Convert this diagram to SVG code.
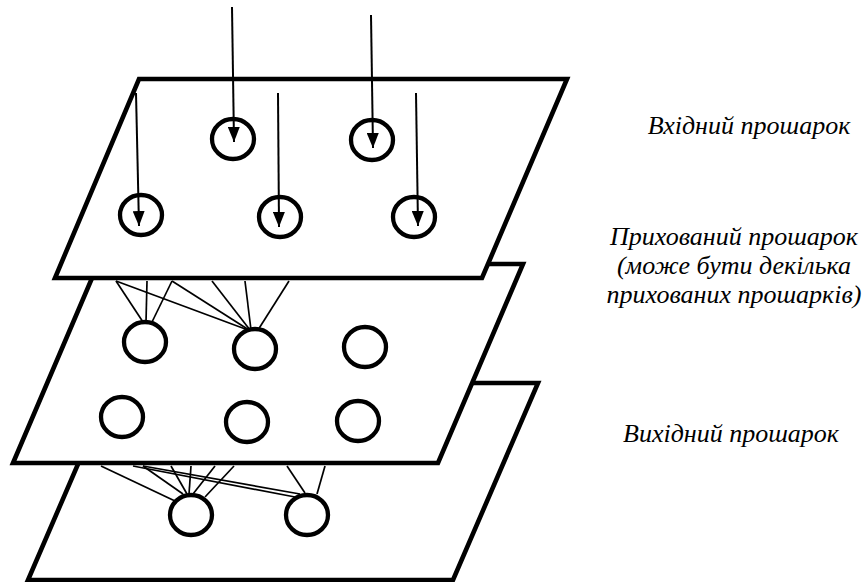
<svg xmlns="http://www.w3.org/2000/svg" width="866" height="582" viewBox="0 0 866 582">
<style>
.plane{fill:#fff;stroke:#000;stroke-width:4.6;stroke-linejoin:miter}
.node{fill:none;stroke:#000;stroke-width:4.3}
.link{stroke:#000;stroke-width:1.7;fill:none}
.arrow{stroke:#000;stroke-width:2;fill:none;marker-end:url(#ah)}
.lbl{font-family:"Liberation Serif","Times New Roman",serif;font-style:italic;font-size:26px;fill:#000;text-anchor:middle}
</style>
<defs>
<marker id="ah" markerUnits="userSpaceOnUse" viewBox="0 0 15 12" markerWidth="15" markerHeight="12" refX="15" refY="6" orient="auto">
<path d="M0,0 L15,6 L0,12 z" fill="#000"/>
</marker>
</defs>
<rect width="866" height="582" fill="#fff"/>
<g id="output-layer"><polygon class="plane" points="113,383 538,383 453,580 28,580"/></g>
<g id="hidden-layer"><polygon class="plane" points="98,264 523,264 438,463 13,463"/></g>
<g id="input-layer"><polygon class="plane" points="139,79 567,79 482,278 55,278"/></g>
<g id="in1"><ellipse class="node" cx="233" cy="139" rx="21" ry="20"/></g>
<g id="in2"><ellipse class="node" cx="372" cy="140" rx="21" ry="20"/></g>
<g id="in3"><ellipse class="node" cx="141" cy="215" rx="21" ry="20"/></g>
<g id="in4"><ellipse class="node" cx="280" cy="217" rx="21" ry="20"/></g>
<g id="in5"><ellipse class="node" cx="414" cy="217" rx="21" ry="20"/></g>
<g id="h1"><ellipse class="node" cx="145" cy="342" rx="21" ry="20"/></g>
<g id="h2"><ellipse class="node" cx="255" cy="349" rx="21" ry="20"/></g>
<g id="h3"><ellipse class="node" cx="365" cy="347" rx="21" ry="20"/></g>
<g id="h4"><ellipse class="node" cx="122" cy="417" rx="21" ry="20"/></g>
<g id="h5"><ellipse class="node" cx="247" cy="422" rx="21" ry="20"/></g>
<g id="h6"><ellipse class="node" cx="358" cy="421" rx="21" ry="20"/></g>
<g id="o1"><ellipse class="node" cx="191" cy="515" rx="21" ry="20"/></g>
<g id="o2"><ellipse class="node" cx="307" cy="515" rx="21" ry="20"/></g>
<g id="connectors">
<line class="arrow" x1="232" y1="7" x2="234" y2="142"/>
<line class="arrow" x1="371" y1="15" x2="373" y2="148"/>
<line class="arrow" x1="136" y1="93" x2="139" y2="226"/>
<line class="arrow" x1="278" y1="93" x2="279" y2="227"/>
<line class="arrow" x1="416" y1="93" x2="418" y2="226"/>
<line class="link" x1="116" y1="281" x2="143" y2="322"/>
<line class="link" x1="147" y1="281" x2="146" y2="322"/>
<line class="link" x1="172" y1="281" x2="152" y2="322"/>
<line class="link" x1="116" y1="281" x2="248" y2="330"/>
<line class="link" x1="172" y1="281" x2="249" y2="330"/>
<line class="link" x1="212" y1="281" x2="250" y2="330"/>
<line class="link" x1="245" y1="281" x2="251" y2="330"/>
<line class="link" x1="289" y1="281" x2="258" y2="330"/>
<line class="link" x1="101" y1="466" x2="175" y2="501"/>
<line class="link" x1="143" y1="466" x2="183" y2="494"/>
<line class="link" x1="171" y1="466" x2="187" y2="494"/>
<line class="link" x1="191" y1="466" x2="189" y2="494"/>
<line class="link" x1="215" y1="466" x2="193" y2="494"/>
<line class="link" x1="234" y1="466" x2="205" y2="497"/>
<line class="link" x1="133" y1="466" x2="295" y2="497"/>
<line class="link" x1="143" y1="466" x2="300" y2="494"/>
<line class="link" x1="287" y1="466" x2="305" y2="493"/>
<line class="link" x1="325" y1="466" x2="317" y2="494"/>
</g>
<g id="labels">
<text class="lbl" x="749" y="134">Вхідний прошарок</text>
<text class="lbl" x="734" y="245">Прихований прошарок</text>
<text class="lbl" x="734" y="274">(може бути декілька</text>
<text class="lbl" x="734" y="303">прихованих прошарків)</text>
<text class="lbl" x="731" y="442">Вихідний прошарок</text>
</g>
</svg>
